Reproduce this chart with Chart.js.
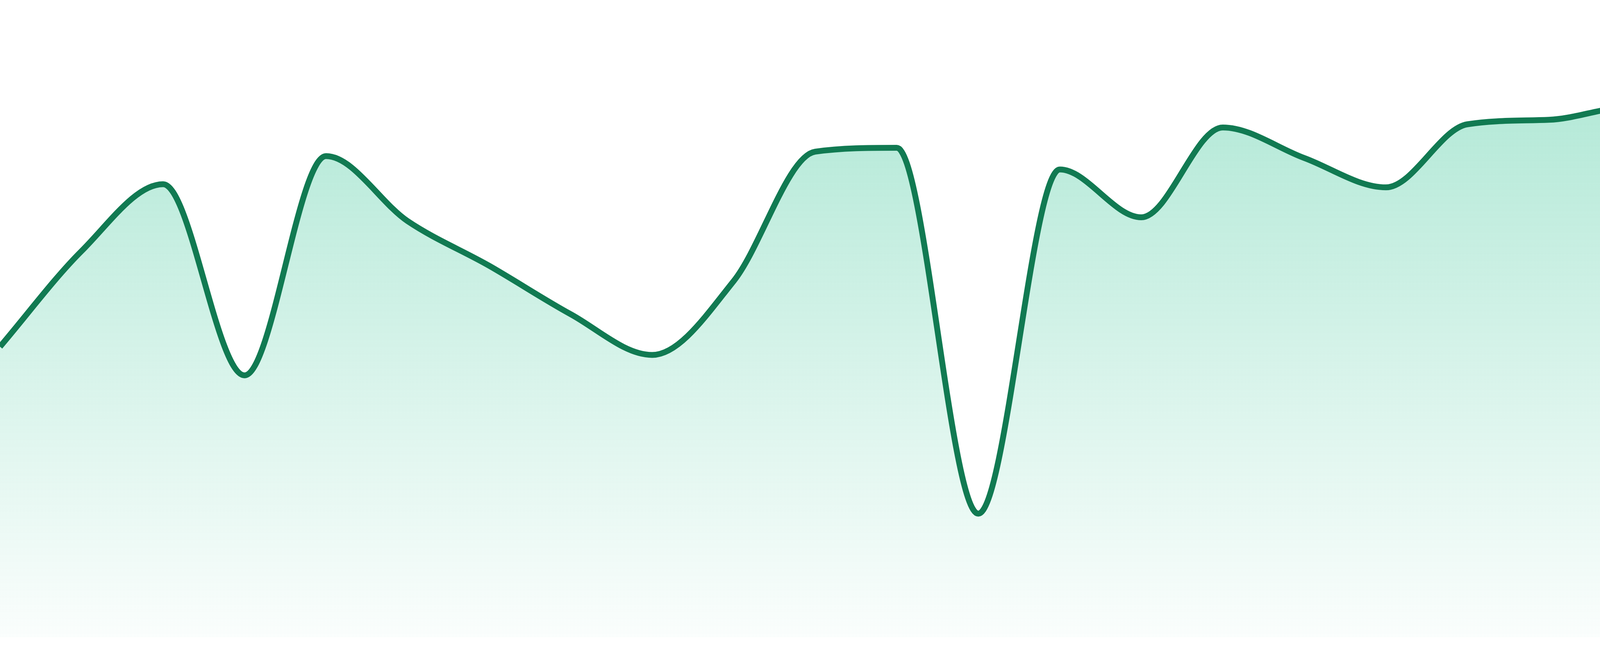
<!DOCTYPE html>
<html>
<head>
<meta charset="utf-8">
<title>Area chart</title>
<script src="https://cdn.jsdelivr.net/npm/chart.js@4.4.1/dist/chart.umd.min.js"></script>
<style>
  html, body { margin: 0; padding: 0; background: #ffffff; overflow: hidden; }
  #wrap { position: relative; width: 4800px; height: 1680px; }
</style>
</head>
<body>
<div id="wrap"><canvas id="chart"></canvas></div>
<script>
// categories (no axis labels are shown in the picture)
const labels = ['1', '2', '3', '4', '5', '6', '7', '8', '9', '10', '11', '12',
                '13', '14', '15', '16', '17', '18', '19', '20', '21', '22', '23', '24'];

// series values (0..100 scale)
const values = [45.6, 60.6, 71.1, 41.1, 75.5, 65.3, 58.3, 50.7, 44.3, 55.9, 76.2, 76.8,
                19.4, 73.4, 65.9, 80.0, 75.2, 70.6, 80.5, 81.2, 83.2, 82.4, 87.5, 86.7];

const yMin = 0;
const yMax = 100;

const ctx = document.getElementById('chart').getContext('2d');

const areaFill = context => {
    const area = context.chart.chartArea;
    if (!area) return 'rgba(16, 185, 129, 0.2)';
    const g = context.chart.ctx.createLinearGradient(0, area.top, 0, area.bottom);
    g.addColorStop(0, 'rgba(16, 185, 129, 0.37)');
    g.addColorStop(1, 'rgba(16, 185, 129, 0.02)');
    return g;
};

new Chart(ctx, {
    type: 'line',
    data: {
        labels: labels,
        datasets: [{
            data: values,
            borderColor: '#117a52',
            borderWidth: 15,
            backgroundColor: areaFill,
            fill: 'start',
            cubicInterpolationMode: 'monotone',
            pointRadius: 0,
            pointHoverRadius: 0,
        }],
    },
    options: {
        responsive: true,
        maintainAspectRatio: false,
        animation: false,
        layout: { padding: { top: 0, left: 0, right: 0, bottom: 48 } },
        plugins: {
            legend: { display: false },
            tooltip: { enabled: false },
        },
        scales: {
            x: { display: false, offset: false },
            y: { display: false, min: yMin, max: yMax },
        },
    },
});
</script>
</body>
</html>
